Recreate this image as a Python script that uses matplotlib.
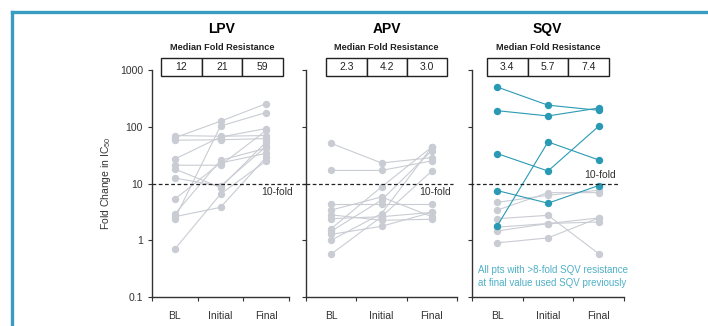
import matplotlib.pyplot as plt
from matplotlib.patches import Rectangle
from matplotlib.lines import Line2D

plt.rcParams['font.family'] = ['Liberation Sans', 'DejaVu Sans']
plt.rcParams['mathtext.fontset'] = 'custom'
plt.rcParams['mathtext.rm'] = 'Liberation Sans'

# time points on the x axis
visits = ['BL', 'Initial', 'Final']

# fold change per patient: [BL, Initial, Final]
lpv = [
    [64, 125, 255],
    [2.4, 103, 178],
    [70, 68, 70],
    [58, 59, 62],
    [27, 66, 93],
    [21, 21, 86],
    [18, 8.5, 54],
    [12.5, 9, 45],
    [5.3, 23, 34],
    [2.9, 25.6, 42],
    [2.6, 3.8, 29],
    [0.7, 6.5, 25],
]
apv = [
    [51, 23, 28.6],
    [17, 17, 25],
    [4.3, 4.3, 4.3],
    [3.4, 5.8, 2.6],
    [2.8, 2.25, 2.34],
    [2.4, 2.6, 3.1],
    [1.6, 8.7, 44],
    [1.44, 5.1, 38],
    [1.27, 1.76, 3.1],
    [1.0, 2.95, 44],
    [0.57, 2.6, 16.6],
]
sqv_prev = [
    [500, 240, 195],
    [192, 155, 214],
    [33.6, 16.6, 102],
    [1.8, 54, 26],
    [7.5, 4.5, 9.2],
]
sqv_other = [
    [4.65, 6.2, 7.6],
    [3.4, 6.9, 6.9],
    [2.4, 2.75, 0.58],
    [1.7, 1.97, 2.1],
    [1.46, 1.97, 2.47],
    [0.9, 1.1, 2.47],
]

drugs = ['LPV', 'APV', 'SQV']
medians = [['12', '21', '59'], ['2.3', '4.2', '3.0'], ['3.4', '5.7', '7.4']]

gray = '#c9ccd3'
teal = '#2a9ab4'
frame = '#3a9cc0'
W, H = 708, 326

fig = plt.figure(figsize=(W / 100, H / 100), dpi=100)

def fx(px):
    return px / W

def fy(py):
    return 1 - py / H

# axes placement in pixels: left, right
panels = [(152, 289), (306, 457), (472, 624)]
top, bottom = 70, 297
# median box left edge and cell width (pixels)
boxes = [(161, 40.6), (326, 40.5), (487, 40.5)]
# dashed line extent (pixels)
dash = [(152, 306), (306, 453), (470, 618)]

series = [[(lpv, gray)], [(apv, gray)], [(sqv_other, gray), (sqv_prev, teal)]]

for i, (l, r) in enumerate(panels):
    ax = fig.add_axes([fx(l), fy(bottom), fx(r - l), (bottom - top) / H])
    ax.set_yscale('log')
    ax.set_ylim(0.1, 1000)
    ax.set_xlim(0.5, 3.5)
    for data, col in series[i]:
        for pt in data:
            ax.plot([1, 2, 3], pt, color=col, lw=0.8, marker='o', ms=4.3,
                    mec=col, mfc=col)

    for s in ['top', 'right']:
        ax.spines[s].set_visible(False)
    for s in ['left', 'bottom']:
        ax.spines[s].set_color('#333333')
        ax.spines[s].set_linewidth(1.0)

    ax.set_xticks([0.5, 1.5, 2.5, 3.5])
    ax.set_xticklabels([])
    ax.set_xticks([1, 2, 3], minor=True)
    ax.set_xticklabels(visits, minor=True, fontsize=7.5, color='#333333')
    ax.tick_params(axis='x', which='minor', length=0, pad=10)
    ax.tick_params(axis='x', which='major', length=3, color='#333333')
    ax.set_yticks([0.1, 1, 10, 100, 1000])
    ax.yaxis.set_minor_locator(plt.NullLocator())
    ax.tick_params(axis='y', length=3, color='#333333', labelsize=7.5,
                   labelcolor='#333333')
    if i == 0:
        ax.set_yticklabels(['0.1', '1', '10', '100', '1000'])
        ax.set_ylabel('Fold Change in IC$_{50}$', fontsize=7.5, color='#333333',
                      labelpad=5)
    else:
        ax.set_yticklabels([])

    # 10-fold reference line
    x0, x1 = dash[i]
    fig.add_artist(Line2D([fx(x0), fx(x1)], [fy(183.5), fy(183.5)],
                          color='#222222', lw=0.9, ls=(0, (3, 2))))
    if i == 0:
        fig.text(fx(293), fy(192), '10-fold', ha='right', va='center',
                 fontsize=7.5, color='#333333')
    elif i == 1:
        fig.text(fx(x1 - 2), fy(192), '10-fold', ha='right', va='center',
                 fontsize=7.5, color='#333333')
    else:
        fig.text(fx(x1 - 2), fy(175), '10-fold', ha='right', va='center',
                 fontsize=7.5, color='#333333')

    # drug title and median box
    bx, cw = boxes[i]
    cx = bx + 1.5 * cw
    fig.text(fx(cx), fy(29), drugs[i], ha='center', va='center',
             fontsize=10, fontweight='bold')
    fig.text(fx(cx), fy(48), 'Median Fold Resistance', ha='center',
             va='center', fontsize=6.6, fontweight='bold', color='#222222')
    for k, m in enumerate(medians[i]):
        left = bx + k * cw
        fig.add_artist(Rectangle((fx(left), fy(76)), fx(cw), (76 - 58) / H,
                                 transform=fig.transFigure, fill=True,
                                 fc='white', ec='#222222', lw=1.0))
        fig.text(fx(left + cw / 2), fy(67), m, ha='center', va='center',
                 fontsize=7.5, color='#222222')

fig.text(fx(478), fy(270), 'All pts with >8-fold SQV resistance',
         ha='left', va='center', fontsize=7, color='#4fb0c6')
fig.text(fx(478), fy(283.5), 'at final value used SQV previously',
         ha='left', va='center', fontsize=7, color='#4fb0c6')

# teal frame along the top and left edges
fig.add_artist(Line2D([fx(11.5), 1], [fy(11.5), fy(11.5)], color=frame, lw=2.4))
fig.add_artist(Line2D([fx(11.5), fx(11.5)], [fy(11.5), 0], color=frame, lw=2.4))

fig.savefig('out.png', dpi=100)
